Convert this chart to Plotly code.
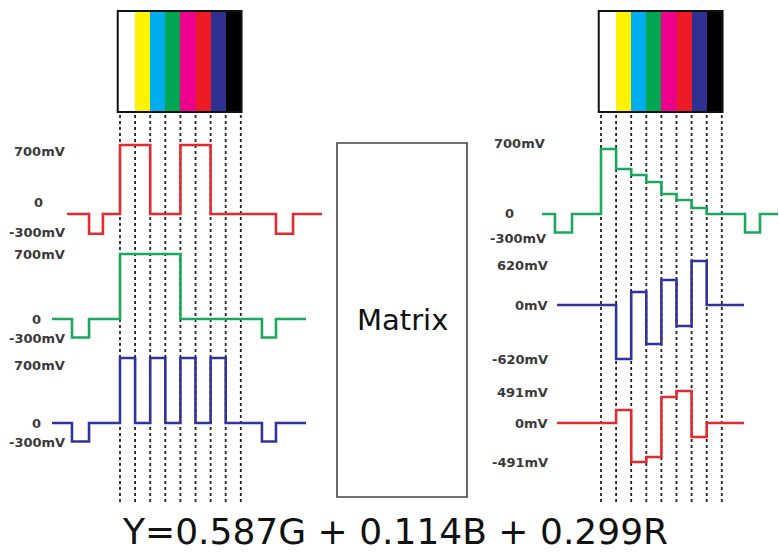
import plotly.graph_objects as go

W, H = 779, 553

# ---------------- data ----------------
BAR_NAMES = ["White", "Yellow", "Cyan", "Green", "Magenta", "Red", "Blue", "Black"]
BAR_COLORS = ["#ffffff", "#fff200", "#00aeef", "#00a651", "#ec008c", "#ed1c24", "#2e3192", "#000000"]

# RGB inputs (mV per colour bar)
R_LEVELS = [700, 700, 0, 0, 700, 700, 0, 0]
G_LEVELS = [700, 700, 700, 700, 0, 0, 0, 0]
B_LEVELS = [700, 0, 700, 0, 700, 0, 700, 0]
SYNC_LEVEL = -200   # sync tip as drawn (labelled -300mV)

# Matrix outputs (mV per colour bar, as drawn)
Y_LEVELS = [700, 485, 420, 345, 215, 151, 65, 0]
PB_LEVELS = [0, -683, 164, -493, 316, -266, 557, 0]
PR_LEVELS = [0, 182, -547, -477, 365, 449, -196, 0]

# timing (in colour-bar widths): line start, sync start, sync end, sync2 start, sync2 end, line end
R_TIMING = [-3.51, -2.05, -1.13, 10.33, 11.46, 13.38]
GB_TIMING = [-4.50, -3.18, -2.05, 9.40, 10.33, 12.32]
Y_TIMING = [-3.91, -3.05, -1.92, 9.54, 10.53, 11.72]
C_TIMING = [-2.91, 9.47]

EQUATION = "Y=0.587G + 0.114B + 0.299R"

# ---------------- layout helpers ----------------
UNIT = 15.1          # px per colour bar
LEFT_X0 = 120        # px of bar start, left panel
RIGHT_X0 = 601       # px of bar start, right panel


def xrange(x0):
    return [-x0 / UNIT, (W - x0) / UNIT]


def yrange(py0, px_per_unit):
    return [-(H - py0) / px_per_unit, py0 / px_per_unit]


def wave(levels, timing):
    t0, s0, s1, s2, s3, t1 = timing
    xs = [t0, s0, s1] + list(range(len(levels))) + [len(levels), s2, s3, t1]
    ys = [0, SYNC_LEVEL, 0] + levels + [0, SYNC_LEVEL, 0, 0]
    return xs, ys


def wave_nosync(levels, timing):
    t0, t1 = timing
    xs = [t0] + list(range(len(levels))) + [len(levels), t1]
    ys = [0] + levels + [0, 0]
    return xs, ys


fig = go.Figure()

BAR_TOP, BAR_BOT = 11, 112
BAR_S = BAR_BOT - BAR_TOP
DASH_TOP, DASH_BOT = 115, 503

for xa in ["x", "x2"]:
    fig.add_trace(go.Bar(x=[i + 0.5 for i in range(8)], y=[1] * 8, width=1,
                         marker=dict(color=BAR_COLORS, line=dict(width=0)),
                         xaxis=xa, yaxis="y", showlegend=False, hoverinfo="skip"))
    dx, dy = [], []
    for i in range(9):
        dx += [i, i, None]
        dy += [(BAR_BOT - DASH_TOP) / BAR_S, (BAR_BOT - DASH_BOT) / BAR_S, None]
    fig.add_trace(go.Scatter(x=dx, y=dy, mode="lines", xaxis=xa, yaxis="y",
                             line=dict(color="#222", width=1.8, dash="3px,3px"),
                             showlegend=False, hoverinfo="skip"))

RED, GREEN, BLUE = "#e42a2f", "#1aa85a", "#30339a"
LW = 2.6

x, y = wave(R_LEVELS, R_TIMING)
fig.add_trace(go.Scatter(x=x, y=y, line_shape="hv", mode="lines", line=dict(color=RED, width=LW),
                         xaxis="x", yaxis="y2", showlegend=False))
x, y = wave(G_LEVELS, GB_TIMING)
fig.add_trace(go.Scatter(x=x, y=y, line_shape="hv", mode="lines", line=dict(color=GREEN, width=LW),
                         xaxis="x", yaxis="y3", showlegend=False))
x, y = wave(B_LEVELS, GB_TIMING)
fig.add_trace(go.Scatter(x=x, y=y, line_shape="hv", mode="lines", line=dict(color=BLUE, width=LW),
                         xaxis="x", yaxis="y4", showlegend=False))
x, y = wave(Y_LEVELS, Y_TIMING)
fig.add_trace(go.Scatter(x=x, y=y, line_shape="hv", mode="lines", line=dict(color=GREEN, width=LW),
                         xaxis="x2", yaxis="y5", showlegend=False))
x, y = wave_nosync(PB_LEVELS, C_TIMING)
fig.add_trace(go.Scatter(x=x, y=y, line_shape="hv", mode="lines", line=dict(color=BLUE, width=LW),
                         xaxis="x2", yaxis="y6", showlegend=False))
x, y = wave_nosync(PR_LEVELS, C_TIMING)
fig.add_trace(go.Scatter(x=x, y=y, line_shape="hv", mode="lines", line=dict(color=RED, width=LW),
                         xaxis="x2", yaxis="y7", showlegend=False))

hidden = dict(visible=False, fixedrange=True)
layout = dict(
    width=W, height=H, margin=dict(l=0, r=0, t=0, b=0),
    paper_bgcolor="white", plot_bgcolor="rgba(0,0,0,0)",
    showlegend=False, bargap=0,
    xaxis=dict(range=xrange(LEFT_X0), domain=[0, 1], **hidden),
    xaxis2=dict(range=xrange(RIGHT_X0), domain=[0, 1], overlaying="x", **hidden),
    yaxis=dict(range=yrange(BAR_BOT, BAR_S), domain=[0, 1], **hidden),
)
ydefs = {
    "yaxis2": (214, 69 / 700),
    "yaxis3": (319, 65 / 700),
    "yaxis4": (423, 65 / 700),
    "yaxis5": (214, 65 / 700),
    "yaxis6": (305, 49 / 620),
    "yaxis7": (423, 35 / 491),
}
for k, (p0, s) in ydefs.items():
    anchor = "x" if k in ("yaxis2", "yaxis3", "yaxis4") else "x2"
    layout[k] = dict(range=yrange(p0, s), domain=[0, 1], overlaying="y", anchor=anchor, **hidden)
fig.update_layout(**layout)

# colour bar frames
for xr in ["x", "x2"]:
    fig.add_shape(type="rect", xref=xr, yref="y", x0=-0.15, x1=8.05, y0=0, y1=1,
                  line=dict(color="#111", width=2), fillcolor="rgba(0,0,0,0)")

# Matrix box
fig.add_shape(type="rect", xref="paper", yref="paper",
              x0=337 / W, x1=467 / W, y0=1 - 497 / H, y1=1 - 143 / H,
              line=dict(color="#444", width=1.6), fillcolor="rgba(0,0,0,0)")
fig.add_annotation(text="Matrix", xref="paper", yref="paper", x=402 / W, y=1 - 320 / H,
                   showarrow=False, xanchor="center", yanchor="middle",
                   font=dict(family="DejaVu Sans", size=29, color="#111"))

# level labels: (text, right-edge px, centre-y px)
LABELS = [
    ("700mV", 67, 151), ("0", 45, 202), ("-300mV", 67, 232),
    ("700mV", 67, 254), ("0", 43, 319), ("-300mV", 67, 338),
    ("700mV", 67, 365), ("0", 43, 423), ("-300mV", 67, 442),
    ("700mV", 547, 144), ("0", 516, 214), ("-300mV", 548, 238),
    ("620mV", 550, 265), ("0mV", 550, 305), ("-620mV", 550, 359),
    ("491mV", 550, 392), ("0mV", 550, 423), ("-491mV", 550, 462),
]
for txt, px, py in LABELS:
    fig.add_annotation(text=txt, xref="paper", yref="paper", x=px / W, y=1 - py / H,
                       showarrow=False, xanchor="right", yanchor="middle",
                       font=dict(family="DejaVu Sans", size=13, color="#3a3a3a", weight="bold"))

fig.add_annotation(text=EQUATION, xref="paper", yref="paper", x=395 / W, y=0,
                   showarrow=False, xanchor="center", yanchor="bottom", borderpad=0,
                   font=dict(family="DejaVu Sans", size=36, color="#111"))

fig.write_html("out.html", config={"displayModeBar": False},
               post_script="document.body.style.margin='0px';document.body.style.overflow='hidden';")
